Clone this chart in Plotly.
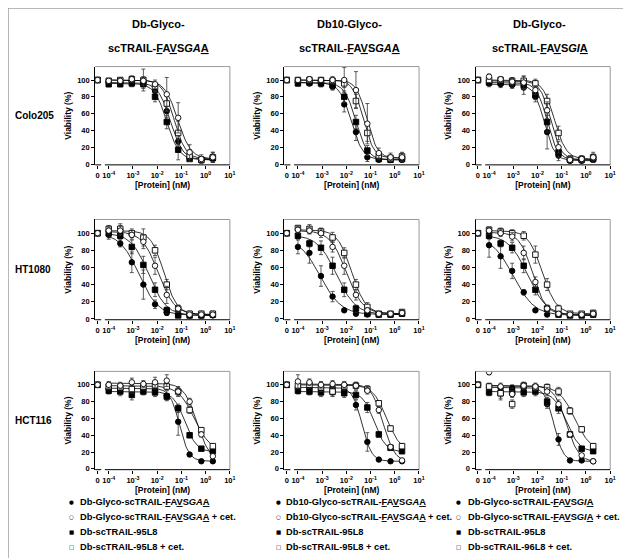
import numpy as np
import plotly.graph_objects as go

# concentrations (nM); 0 = untreated control, drawn left of the axis break
CONC = [0, 0.0001, 0.0003, 0.0009, 0.0027, 0.0082, 0.025, 0.074, 0.22, 0.67, 2.0]
ZERO_POS = 10 ** -4.46

X_TICKS = [ZERO_POS, 1e-4, 1e-3, 1e-2, 1e-1, 1, 10]
X_TICKTEXT = ["0", "10<sup>-4</sup>", "10<sup>-3</sup>", "10<sup>-2</sup>",
              "10<sup>-1</sup>", "10<sup>0</sup>", "10<sup>1</sup>"]
Y_TICKS = [0, 20, 40, 60, 80, 100]

ROW_LABELS = ["Colo205", "HT1080", "HCT116"]
COL_TITLES_1 = ["Db-Glyco-", "Db10-Glyco-", "Db-Glyco-"]
COL_TITLES_2 = ["scTRAIL-<u>F</u>A<u>V</u>S<i>GA</i><u>A</u>",
                "scTRAIL-<u>F</u>A<u>V</u>S<i>GA</i><u>A</u>",
                "scTRAIL-<u>F</u>A<u>V</u>S<i>GI</i><u>A</u>"]
LEGEND_GAA = ["Db-Glyco-scTRAIL-<u>F</u>A<u>V</u>S<i>GA</i><u>A</u>",
              "Db-Glyco-scTRAIL-<u>F</u>A<u>V</u>S<i>GA</i><u>A</u> + cet.",
              "Db-scTRAIL-95L8", "Db-scTRAIL-95L8 + cet."]
LEGEND_DB10 = ["Db10-Glyco-scTRAIL-<u>F</u>A<u>V</u>S<i>GA</i><u>A</u>",
               "Db10-Glyco-scTRAIL-<u>F</u>A<u>V</u>S<i>GA</i><u>A</u> + cet.",
               "Db-scTRAIL-95L8", "Db-scTRAIL-95L8 + cet."]
LEGEND_GIA = ["Db-Glyco-scTRAIL-<u>F</u>A<u>V</u>S<i>GI</i><u>A</u>",
              "Db-Glyco-scTRAIL-<u>F</u>A<u>V</u>S<i>GI</i><u>A</u> + cet.",
              "Db-scTRAIL-95L8", "Db-scTRAIL-96L8 + cet."]
LEGEND_MARKS = ["●", "○", "■", "□"]

# each panel: viability (%) for [glyco-scTRAIL, + cet., 95L8, 95L8 + cet.]
COLO205_GAA = [[100, 98, 97, 99, 97, 87, 63, 27, 7, 5, 7],
               [100, 99, 99, 101, 99, 95, 83, 55, 14, 6, 8],
               [100, 95, 95, 96, 95, 80, 50, 17, 6, 5, 7],
               [100, 99, 100, 101, 100, 92, 72, 37, 10, 5, 8]]
COLO205_GAA_SD = [[2, 3, 3, 3, 4, 5, 8, 10, 3, 3, 4],
                  [1, 3, 3, 4, 5, 5, 20, 18, 9, 5, 6],
                  [2, 3, 3, 4, 5, 6, 8, 12, 3, 3, 5],
                  [1, 2, 3, 3, 13, 5, 9, 14, 7, 4, 6]]
COLO205_GAA_FIT = [[97, 5, -1.45, 1.7], [100, 6, -1.15, 1.6],
                   [96, 5, -1.6, 1.7], [100, 6, -1.3, 1.8]]

COLO205_DB10 = [[100, 97, 96, 96, 92, 71, 38, 8, 5, 5, 5],
                [100, 100, 101, 100, 100, 100, 88, 48, 13, 8, 8],
                [100, 96, 97, 96, 94, 80, 50, 16, 6, 5, 6],
                [100, 100, 100, 100, 99, 96, 75, 37, 10, 7, 9]]
COLO205_DB10_SD = [[2, 3, 3, 4, 4, 9, 10, 5, 2, 3, 3],
                   [1, 3, 3, 3, 4, 15, 22, 24, 6, 5, 5],
                   [2, 3, 3, 4, 5, 7, 8, 6, 3, 3, 3],
                   [1, 3, 3, 3, 4, 5, 8, 10, 5, 4, 5]]
COLO205_DB10_FIT = [[97, 5, -1.8, 1.8], [100, 7, -1.15, 2.0],
                    [97, 5, -1.6, 1.8], [100, 7, -1.3, 2.0]]

COLO205_GIA = [[100, 96, 95, 94, 91, 80, 38, 10, 4, 4, 5],
               [100, 104, 101, 98, 97, 88, 64, 20, 5, 6, 8],
               [100, 97, 97, 96, 95, 82, 50, 14, 5, 5, 6],
               [100, 100, 100, 99, 99, 96, 75, 37, 6, 6, 8]]
COLO205_GIA_SD = [[2, 4, 4, 4, 8, 6, 20, 6, 3, 3, 3],
                  [2, 3, 3, 4, 8, 5, 10, 7, 3, 3, 4],
                  [2, 3, 3, 4, 5, 5, 12, 6, 3, 3, 3],
                  [1, 3, 3, 4, 5, 5, 8, 8, 4, 4, 6]]
COLO205_GIA_FIT = [[95, 4, -1.72, 2.0], [99, 5, -1.45, 2.0],
                   [97, 5, -1.6, 2.0], [100, 6, -1.3, 1.8]]

HT1080_GAA = [[100, 98, 88, 66, 40, 17, 7, 5, 4, 4, 4],
              [100, 103, 103, 98, 90, 62, 28, 12, 5, 5, 5],
              [100, 100, 97, 84, 63, 34, 10, 4, 4, 4, 5],
              [100, 105, 105, 100, 95, 80, 40, 12, 6, 6, 6]]
HT1080_GAA_SD = [[2, 5, 4, 12, 17, 5, 3, 2, 2, 2, 2],
                 [2, 4, 6, 5, 8, 10, 10, 4, 2, 2, 2],
                 [2, 4, 4, 8, 10, 8, 4, 2, 2, 2, 3],
                 [2, 4, 6, 5, 10, 6, 6, 4, 3, 3, 3]]
HT1080_GAA_FIT = [[100, 4, -2.75, 1.1], [102, 5, -1.95, 1.3],
                  [100, 4, -2.35, 1.2], [103, 5, -1.72, 1.6]]

HT1080_DB10 = [[100, 84, 77, 50, 26, 10, 6, 5, 5, 5, 6],
               [100, 104, 103, 100, 84, 62, 28, 10, 6, 6, 7],
               [100, 97, 88, 83, 62, 34, 12, 6, 5, 5, 6],
               [100, 106, 105, 102, 95, 77, 40, 14, 6, 6, 8]]
HT1080_DB10_SD = [[2, 8, 12, 12, 6, 2, 2, 2, 2, 2, 2],
                  [2, 4, 4, 5, 6, 10, 6, 3, 2, 2, 3],
                  [2, 4, 4, 8, 10, 8, 4, 2, 2, 2, 2],
                  [2, 3, 5, 4, 6, 6, 6, 5, 2, 2, 3]]
HT1080_DB10_FIT = [[95, 5, -3.08, 1.0], [103, 6, -2.0, 1.3],
                   [98, 5, -2.4, 1.1], [104, 6, -1.78, 1.5]]

HT1080_GIA = [[100, 86, 73, 56, 31, 10, 5, 5, 5, 5, 5],
              [100, 103, 100, 96, 77, 43, 12, 6, 5, 5, 6],
              [100, 97, 88, 83, 62, 34, 12, 5, 4, 4, 5],
              [100, 104, 102, 100, 97, 75, 40, 12, 6, 6, 7]]
HT1080_GIA_SD = [[2, 14, 14, 9, 3, 2, 2, 2, 2, 2, 2],
                 [2, 4, 4, 5, 8, 6, 4, 2, 2, 2, 3],
                 [2, 4, 4, 6, 8, 6, 4, 2, 2, 2, 2],
                 [2, 3, 4, 4, 5, 10, 7, 4, 2, 2, 3]]
HT1080_GIA_FIT = [[96, 4, -3.0, 1.0], [101, 5, -2.2, 1.6],
                  [98, 4, -2.4, 1.1], [103, 6, -1.8, 1.5]]

HCT116_GAA = [[100, 95, 96, 95, 97, 95, 87, 56, 17, 9, 9],
              [100, 100, 99, 103, 101, 103, 105, 92, 80, 41, 15],
              [100, 93, 92, 88, 92, 91, 86, 72, 40, 24, 21],
              [100, 98, 97, 95, 98, 99, 98, 92, 70, 46, 27]]
HCT116_GAA_SD = [[2, 4, 5, 6, 4, 5, 6, 16, 2, 2, 2],
                 [2, 4, 4, 5, 4, 6, 7, 6, 4, 3, 3],
                 [2, 4, 5, 6, 4, 5, 4, 5, 3, 2, 3],
                 [2, 4, 4, 5, 4, 4, 4, 5, 4, 3, 3]]
HCT116_GAA_FIT = [[96, 9, -1.08, 2.2], [102, 8, -0.35, 1.6],
                  [92, 20, -0.85, 1.8], [99, 20, -0.45, 1.3]]

HCT116_DB10 = [[100, 97, 96, 97, 97, 94, 76, 32, 11, 9, 9],
               [100, 104, 103, 100, 101, 100, 99, 93, 70, 26, 10],
               [100, 93, 92, 91, 92, 90, 88, 73, 41, 25, 21],
               [100, 99, 100, 97, 92, 98, 99, 95, 78, 48, 27]]
HCT116_DB10_SD = [[2, 3, 4, 4, 4, 4, 6, 11, 2, 2, 2],
                  [2, 8, 4, 4, 4, 4, 4, 4, 4, 3, 2],
                  [2, 4, 4, 5, 5, 5, 5, 6, 3, 2, 3],
                  [2, 4, 4, 5, 6, 4, 4, 4, 3, 3, 3]]
HCT116_DB10_FIT = [[97, 9, -1.35, 2.2], [101, 8, -0.48, 1.8],
                   [92, 20, -0.85, 1.8], [100, 20, -0.33, 1.5]]

HCT116_GIA = [[100, 97, 96, 96, 97, 95, 77, 35, 10, 10, 9],
              [100, 115, 98, 89, 99, 98, 92, 77, 41, 16, 9],
              [100, 91, 90, 91, 91, 92, 80, 72, 41, 24, 21],
              [100, 98, 90, 77, 99, 97, 97, 92, 69, 47, 27]]
HCT116_GIA_SD = [[2, 4, 4, 4, 4, 5, 5, 7, 2, 2, 2],
                 [2, 3, 4, 4, 4, 4, 5, 5, 3, 2, 2],
                 [2, 4, 8, 5, 5, 5, 5, 6, 3, 2, 2],
                 [2, 4, 6, 5, 4, 4, 4, 5, 4, 3, 3]]
HCT116_GIA_FIT = [[97, 9, -1.32, 2.3], [99, 8, -0.8, 1.7],
                  [92, 20, -0.8, 1.6], [99, 20, -0.45, 1.3]]

PANELS = [
    [(COLO205_GAA, COLO205_GAA_SD, COLO205_GAA_FIT),
     (COLO205_DB10, COLO205_DB10_SD, COLO205_DB10_FIT),
     (COLO205_GIA, COLO205_GIA_SD, COLO205_GIA_FIT)],
    [(HT1080_GAA, HT1080_GAA_SD, HT1080_GAA_FIT),
     (HT1080_DB10, HT1080_DB10_SD, HT1080_DB10_FIT),
     (HT1080_GIA, HT1080_GIA_SD, HT1080_GIA_FIT)],
    [(HCT116_GAA, HCT116_GAA_SD, HCT116_GAA_FIT),
     (HCT116_DB10, HCT116_DB10_SD, HCT116_DB10_FIT),
     (HCT116_GIA, HCT116_GIA_SD, HCT116_GIA_FIT)],
]
LEGENDS = [LEGEND_GAA, LEGEND_DB10, LEGEND_GIA]

W, H = 631, 558
FONT = "Liberation Sans, Arial, sans-serif"
SYMBOLS = ["circle", "circle", "square", "square"]
FILLS = ["black", "white", "black", "white"]

# panel boxes in pixels
COL_X = [(88, 224), (279, 415), (472, 608)]
ROW_Y = [(59, 158), (213, 314), (366, 465)]
TITLE_X = [152, 345, 537]
X_RANGE = [-4.56, 1.005]

fig = go.Figure()
layout = {}
shapes = []
annotations = []

x_fit = np.logspace(-4, np.log10(2.0), 120)
x_pts = [ZERO_POS if c == 0 else c for c in CONC]

for r in range(3):
    for c in range(3):
        k = r * 3 + c + 1
        sfx = "" if k == 1 else str(k)
        xa, ya = "x" + sfx, "y" + sfx
        means, sds, fits = PANELS[r][c]

        # fitted sigmoid curves (4-parameter logistic)
        for top, bottom, logec50, hill in fits:
            y_fit = bottom + (top - bottom) / (1 + 10 ** (hill * (np.log10(x_fit) - logec50)))
            fig.add_trace(go.Scatter(
                x=x_fit, y=y_fit, mode="lines", xaxis=xa, yaxis=ya,
                line=dict(color="black", width=0.8), showlegend=False, hoverinfo="skip"))

        for s in [0, 2, 3, 1]:
            fig.add_trace(go.Scatter(
                x=x_pts, y=means[s], mode="markers", xaxis=xa, yaxis=ya,
                marker=dict(symbol=SYMBOLS[s], size=5.5, color=FILLS[s],
                            line=dict(color="black", width=0.9)),
                error_y=dict(type="data", array=sds[s], color="#333",
                             thickness=0.8, width=2),
                showlegend=False))

        x0, x1 = COL_X[c]
        y0, y1 = ROW_Y[r]
        layout["xaxis" + sfx] = dict(
            domain=[x0 / W, x1 / W], anchor=ya, type="log", range=X_RANGE,
            tickvals=X_TICKS, ticktext=X_TICKTEXT, tickangle=0,
            ticks="outside", ticklen=3,
            tickcolor="black", showline=False, showgrid=False, zeroline=False,
            tickfont=dict(family=FONT, size=7.5, color="black", weight="bold"),
            title=dict(text="<b>[Protein] (nM)</b>", standoff=2,
                       font=dict(family=FONT, size=8.5, color="black")))
        layout["yaxis" + sfx] = dict(
            domain=[1 - y1 / H, 1 - y0 / H], anchor=xa, range=[-1, 116],
            tickvals=Y_TICKS, ticks="outside", ticklen=3, tickcolor="black",
            showline=True, linecolor="black", linewidth=1,
            showgrid=False, zeroline=False,
            tickfont=dict(family=FONT, size=7.5, color="black", weight="bold"),
            title=dict(text="<b>Viability (%)</b>", standoff=4,
                       font=dict(family=FONT, size=8.5, color="black")))

        # grey frame top/right, black broken x axis
        xd, yd = xa + " domain", ya + " domain"
        shapes += [
            dict(type="line", xref=xd, yref=yd, x0=0, x1=1, y0=1, y1=1,
                 line=dict(color="#9a9a9a", width=1)),
            dict(type="line", xref=xd, yref=yd, x0=1, x1=1, y0=0, y1=1,
                 line=dict(color="#9a9a9a", width=1)),
            dict(type="line", xref=xd, yref=yd, x0=0, x1=0.045, y0=0, y1=0,
                 line=dict(color="black", width=1)),
            dict(type="line", xref=xd, yref=yd, x0=0.072, x1=1, y0=0, y1=0,
                 line=dict(color="black", width=1)),
        ]

# row labels
for r, label in enumerate(ROW_LABELS):
    yc = (ROW_Y[r][0] + ROW_Y[r][1]) / 2
    annotations.append(dict(
        text="<b>" + label + "</b>", x=5 / W, y=1 - yc / H, xref="paper", yref="paper",
        xanchor="left", yanchor="middle", showarrow=False,
        font=dict(family=FONT, size=10, color="black")))

# column titles (two lines)
for c in range(3):
    for text, ypx in [(COL_TITLES_1[c], 16), (COL_TITLES_2[c], 40)]:
        annotations.append(dict(
            text="<b>" + text + "</b>", x=TITLE_X[c] / W, y=1 - ypx / H,
            xref="paper", yref="paper",
            xanchor="center", yanchor="middle", showarrow=False,
            font=dict(family=FONT, size=11, color="black")))

# legends under each column
LEG_MARK_X = [64, 273, 455]
LEG_TEXT_X = [71, 279, 462]
LEG_ROW_Y = [498, 513, 528, 543]
for c in range(3):
    for i in range(4):
        annotations.append(dict(
            text=LEGEND_MARKS[i], x=LEG_MARK_X[c] / W, y=1 - LEG_ROW_Y[i] / H,
            xref="paper", yref="paper", xanchor="center", yanchor="middle",
            showarrow=False, font=dict(family="DejaVu Sans", size=5.5, color="black")))
        annotations.append(dict(
            text="<b>" + LEGENDS[c][i] + "</b>", x=LEG_TEXT_X[c] / W, y=1 - LEG_ROW_Y[i] / H,
            xref="paper", yref="paper", xanchor="left", yanchor="middle",
            showarrow=False, font=dict(family=FONT, size=9.3, color="black")))

# outer frame
shapes.append(dict(type="rect", xref="paper", yref="paper", x0=0, x1=1, y0=0, y1=1,
                   line=dict(color="#a0a0a0", width=1.5)))

fig.update_layout(
    **layout,
    shapes=shapes,
    annotations=annotations,
    width=W, height=H,
    margin=dict(l=0, r=0, t=0, b=0),
    paper_bgcolor="white", plot_bgcolor="white",
    showlegend=False,
)

fig.write_html("out.html")
